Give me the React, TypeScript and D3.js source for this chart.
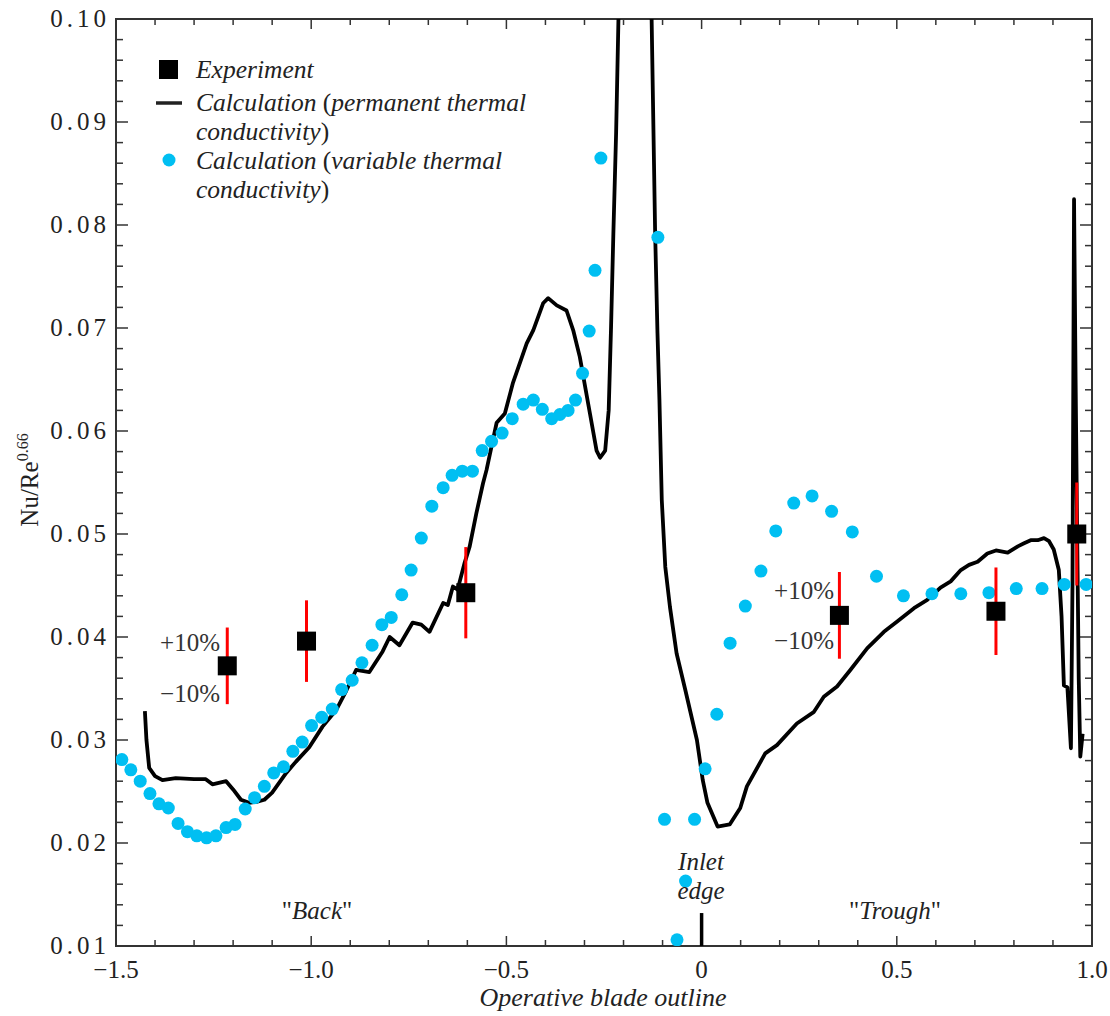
import React from 'react'
import * as d3 from 'd3'

// experiment points (Nu/Re^0.66 vs blade outline coordinate)
const expX = [-1.215, -1.012, -0.604, 0.353, 0.754, 0.961]
const expY = [0.0372, 0.0396, 0.0443, 0.0421, 0.0425, 0.05]
const errFrac = 0.1

// calculation, permanent thermal conductivity (line)
const permanent: [number, number][] = [
  [-1.426, 0.0328], [-1.422, 0.03], [-1.415, 0.0273], [-1.4, 0.0265], [-1.381, 0.0261],
  [-1.347, 0.0263], [-1.3, 0.0262], [-1.27, 0.0262], [-1.253, 0.0257], [-1.218, 0.026],
  [-1.2, 0.0252], [-1.18, 0.0242], [-1.159, 0.0239], [-1.14, 0.024], [-1.12, 0.0242],
  [-1.1, 0.0249], [-1.064, 0.0268], [-1.039, 0.0279], [-1.005, 0.0293], [-0.971, 0.0313],
  [-0.936, 0.0329], [-0.91, 0.0348], [-0.885, 0.0368], [-0.851, 0.0366], [-0.817, 0.0386],
  [-0.799, 0.04], [-0.774, 0.0392], [-0.74, 0.0414], [-0.718, 0.0412], [-0.697, 0.0405],
  [-0.662, 0.0433], [-0.65, 0.0431], [-0.637, 0.0449], [-0.625, 0.0446], [-0.607, 0.0472],
  [-0.594, 0.0488], [-0.577, 0.052], [-0.56, 0.0549], [-0.551, 0.0562], [-0.538, 0.0585],
  [-0.525, 0.0608], [-0.504, 0.0617], [-0.483, 0.0647], [-0.448, 0.0685], [-0.431, 0.0698],
  [-0.406, 0.0724], [-0.393, 0.0729], [-0.371, 0.0722], [-0.346, 0.0717], [-0.329, 0.0698],
  [-0.312, 0.0672], [-0.286, 0.0617], [-0.269, 0.0581], [-0.26, 0.0574], [-0.247, 0.0581],
  [-0.238, 0.062], [-0.232, 0.07], [-0.226, 0.0792], [-0.219, 0.0889], [-0.213, 0.1],
  [-0.205, 0.12], [-0.15, 0.125], [-0.133, 0.11], [-0.128, 0.1], [-0.119, 0.0792],
  [-0.113, 0.0695], [-0.108, 0.063], [-0.102, 0.0533], [-0.093, 0.0468], [-0.081, 0.0429],
  [-0.064, 0.0384], [-0.042, 0.0349], [-0.012, 0.03], [0.003, 0.0261], [0.015, 0.0239],
  [0.041, 0.0216], [0.072, 0.0218], [0.099, 0.0234], [0.116, 0.0255], [0.163, 0.0287],
  [0.193, 0.0295], [0.244, 0.0316], [0.287, 0.0327], [0.313, 0.0342], [0.347, 0.0352],
  [0.381, 0.0368], [0.424, 0.0389], [0.467, 0.0405], [0.501, 0.0415], [0.544, 0.0428],
  [0.578, 0.0436], [0.612, 0.0448], [0.638, 0.0454], [0.664, 0.0465], [0.685, 0.047],
  [0.707, 0.0473], [0.732, 0.0481], [0.754, 0.0484], [0.784, 0.0482], [0.81, 0.0488],
  [0.826, 0.0491], [0.843, 0.0494], [0.861, 0.0494], [0.877, 0.0496], [0.89, 0.0493],
  [0.902, 0.0485], [0.915, 0.0465], [0.922, 0.042], [0.928, 0.0353], [0.937, 0.0351],
  [0.946, 0.0292], [0.95, 0.045], [0.954, 0.0825], [0.958, 0.065], [0.962, 0.05],
  [0.966, 0.036], [0.97, 0.0284], [0.976, 0.0306]
]

// calculation, variable thermal conductivity (dots)
const variable: [number, number][] = [
  [-1.485, 0.0281], [-1.462, 0.0271], [-1.438, 0.026], [-1.413, 0.0248], [-1.39, 0.0238],
  [-1.366, 0.0234], [-1.341, 0.0219], [-1.317, 0.0211], [-1.293, 0.0207], [-1.268, 0.0205],
  [-1.244, 0.0207], [-1.218, 0.0215], [-1.195, 0.0218], [-1.169, 0.0233], [-1.145, 0.0244],
  [-1.12, 0.0255], [-1.096, 0.0268], [-1.071, 0.0274], [-1.047, 0.0289], [-1.023, 0.0298],
  [-0.999, 0.0314], [-0.973, 0.0322], [-0.946, 0.033], [-0.922, 0.0349], [-0.895, 0.0358],
  [-0.87, 0.0375], [-0.844, 0.0392], [-0.819, 0.0412], [-0.795, 0.0419], [-0.768, 0.0441],
  [-0.744, 0.0465], [-0.718, 0.0496], [-0.691, 0.0527], [-0.662, 0.0545], [-0.639, 0.0557],
  [-0.613, 0.0561], [-0.587, 0.0561], [-0.562, 0.0581], [-0.538, 0.059], [-0.511, 0.0598],
  [-0.485, 0.0612], [-0.457, 0.0626], [-0.431, 0.063], [-0.408, 0.0621], [-0.384, 0.0612],
  [-0.363, 0.0616], [-0.342, 0.062], [-0.323, 0.063], [-0.305, 0.0656], [-0.288, 0.0697],
  [-0.273, 0.0756], [-0.258, 0.0865], [-0.112, 0.0788], [-0.095, 0.0223], [-0.063, 0.0106],
  [-0.041, 0.0163], [-0.018, 0.0223], [0.009, 0.0272], [0.039, 0.0325], [0.073, 0.0394],
  [0.112, 0.043], [0.152, 0.0464], [0.19, 0.0503], [0.236, 0.053], [0.283, 0.0537],
  [0.333, 0.0522], [0.386, 0.0502], [0.448, 0.0459], [0.517, 0.044], [0.59, 0.0442],
  [0.664, 0.0442], [0.736, 0.0443], [0.806, 0.0447], [0.872, 0.0447], [0.929, 0.0451],
  [0.985, 0.0451]
]

const xTicks = [-1.5, -1.0, -0.5, 0, 0.5, 1.0]
const xTickLabels = ['\u22121.5', '\u22121.0', '\u22120.5', '0', '0.5', '1.0']
const yTicks = [0.01, 0.02, 0.03, 0.04, 0.05, 0.06, 0.07, 0.08, 0.09, 0.1]
const yTickLabels = ['0.01', '0.02', '0.03', '0.04', '0.05', '0.06', '0.07', '0.08', '0.09', '0.10']
const inletMark = [0, 0.0132]

const W = 1110
const H = 1016
const left = 116
const right = 1092
const top = 19
const bottom = 946

const serif = 'Liberation Serif, DejaVu Serif, serif'
const cyan = '#00bff2'

export default function App () {
  const x = d3.scaleLinear().domain([-1.5, 1.0]).range([left, right])
  const y = d3.scaleLinear().domain([0.01, 0.1]).range([bottom, top])

  const line = d3.line<[number, number]>()
    .x(d => x(d[0]))
    .y(d => y(d[1]))

  const xMinor = d3.range(-1.5, 1.0001, 0.1)
  const yMinor = d3.range(0.01, 0.10001, 0.002)

  const frame = '#333'

  return (
    <svg width={W} height={H} style={{ position: 'absolute', left: 0, top: 0, background: '#fff', fontFamily: serif }}>
      <defs>
        <clipPath id='plot'>
          <rect x={left} y={top} width={right - left} height={bottom - top} />
        </clipPath>
      </defs>

      {/* ticks, all pointing inward */}
      <g stroke={frame} strokeWidth={1.5}>
        {xMinor.map((v, i) => {
          const len = xTicks.some(t => Math.abs(t - v) < 1e-6) ? 10 : 6
          return (
            <g key={'xm' + i}>
              <line x1={x(v)} x2={x(v)} y1={bottom} y2={bottom - len} />
              <line x1={x(v)} x2={x(v)} y1={top} y2={top + len} />
            </g>
          )
        })}
        {yMinor.map((v, i) => {
          const len = yTicks.some(t => Math.abs(t - v) < 1e-6) ? 12 : 7
          return (
            <g key={'ym' + i}>
              <line x1={left} x2={left + len} y1={y(v)} y2={y(v)} />
              <line x1={right} x2={right - len} y1={y(v)} y2={y(v)} />
            </g>
          )
        })}
      </g>

      <rect x={left} y={top} width={right - left} height={bottom - top}
        fill='none' stroke={frame} strokeWidth={2} />

      {/* tick labels */}
      {yTicks.map((v, i) => (
        <text key={'yl' + i} x={110} y={y(v) + 8} textAnchor='end' fontSize={25}
          letterSpacing={4} fill='#222'>{yTickLabels[i]}</text>
      ))}
      {xTicks.map((v, i) => (
        <text key={'xl' + i} x={x(v)} y={978} textAnchor='middle' fontSize={25}
          fill='#222'>{xTickLabels[i]}</text>
      ))}

      {/* axis titles */}
      <text x={603} y={1006} textAnchor='middle' fontSize={26} fontStyle='italic' fill='#222'>
        Operative blade outline
      </text>
      <text transform='translate(38,480) rotate(-90)' textAnchor='middle' fontSize={25} fill='#222'>
        Nu/Re<tspan dy={-10} fontSize={16}>0.66</tspan>
      </text>

      {/* calculation lines and dots */}
      <g clipPath='url(#plot)'>
        <path d={line(permanent) || ''} fill='none' stroke='#000' strokeWidth={3.8}
          strokeLinejoin='round' />
        {variable.map((d, i) => (
          <circle key={'v' + i} cx={x(d[0])} cy={y(d[1])} r={6.5} fill={cyan} />
        ))}
      </g>

      {/* inlet edge marker */}
      <line x1={x(inletMark[0])} x2={x(inletMark[0])} y1={y(inletMark[1])} y2={y(0.01)}
        stroke='#000' strokeWidth={3.5} />

      {/* experiment with +-10% bars */}
      {expX.map((v, i) => (
        <g key={'e' + i}>
          <line x1={x(v)} x2={x(v)} y1={y(expY[i] * (1 + errFrac))} y2={y(expY[i] * (1 - errFrac))}
            stroke='#f00' strokeWidth={3} />
          <rect x={x(v) - 9.5} y={y(expY[i]) - 9.5} width={19} height={19} fill='#000' />
        </g>
      ))}

      {/* +-10% annotations */}
      <g fontSize={25} fill='#333' textAnchor='end'>
        <text x={220} y={651}>+10%</text>
        <text x={220} y={702}>{'\u221210%'}</text>
        <text x={834} y={599}>+10%</text>
        <text x={834} y={649}>{'\u221210%'}</text>
      </g>

      {/* region labels */}
      <g fontSize={25} fill='#222' textAnchor='middle'>
        <text x={317} y={919}>"<tspan fontStyle='italic'>Back</tspan>"</text>
        <text x={895} y={919}>"<tspan fontStyle='italic'>Trough</tspan>"</text>
        <text x={701} y={870} fontStyle='italic'>Inlet</text>
        <text x={701} y={899} fontStyle='italic'>edge</text>
      </g>

      {/* legend */}
      <g fontSize={25.5} fill='#222'>
        <rect x={159} y={60} width={19} height={19} fill='#000' />
        <text x={196} y={78} fontStyle='italic'>Experiment</text>
        <line x1={156} x2={182} y1={103} y2={103} stroke='#222' strokeWidth={3.5} />
        <text x={196} y={111}>
          <tspan fontStyle='italic'>Calculation</tspan> (<tspan fontStyle='italic'>permanent thermal</tspan>
        </text>
        <text x={196} y={140}><tspan fontStyle='italic'>conductivity</tspan>)</text>
        <circle cx={169} cy={160} r={6.5} fill={cyan} />
        <text x={196} y={169}>
          <tspan fontStyle='italic'>Calculation</tspan> (<tspan fontStyle='italic'>variable thermal</tspan>
        </text>
        <text x={196} y={198}><tspan fontStyle='italic'>conductivity</tspan>)</text>
      </g>
    </svg>
  )
}
